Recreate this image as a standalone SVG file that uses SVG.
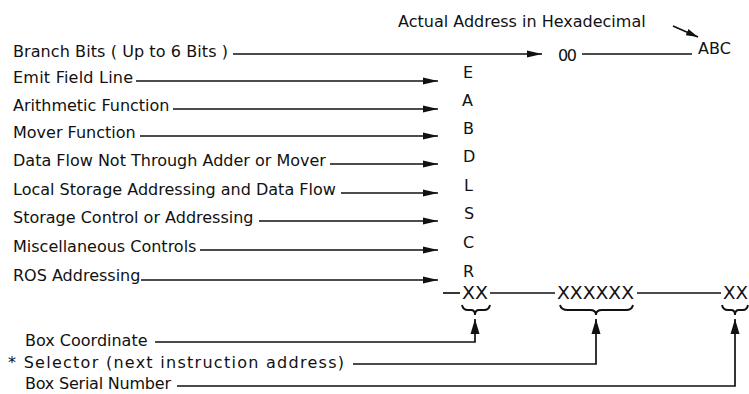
<svg xmlns="http://www.w3.org/2000/svg" width="749" height="394" viewBox="0 0 749 394">
<style>
text{font-family:"DejaVu Sans","Liberation Sans",sans-serif;font-size:16px;fill:#111}
.x{font-size:17px}
.ln{stroke:#111;stroke-width:1.7;fill:none}
.br{stroke:#111;stroke-width:1.9;fill:none}
</style>
<defs>
<marker id="ah" markerWidth="15" markerHeight="8" refX="15" refY="4" orient="auto" markerUnits="userSpaceOnUse"><path d="M0,0.4 L15,4 L0,7.6 z" fill="#111"/></marker>
<marker id="av" markerWidth="15" markerHeight="10" refX="15" refY="5" orient="auto" markerUnits="userSpaceOnUse"><path d="M0,0.5 L15,5 L0,9.5 z" fill="#111"/></marker>
<marker id="ad" markerWidth="12" markerHeight="8" refX="12" refY="4" orient="auto" markerUnits="userSpaceOnUse"><path d="M0,0.6 L12,4 L0,7.4 z" fill="#111"/></marker>
</defs>
<rect width="749" height="394" fill="#fff"/>
<g id="connectors">
<line class="ln" x1="233" y1="54" x2="542" y2="54" marker-end="url(#ah)"/>
<line class="ln" x1="582" y1="54" x2="692" y2="54"/>
<line class="ln" x1="673" y1="26" x2="698" y2="37" marker-end="url(#ad)"/>
<line class="ln" x1="136" y1="81" x2="438" y2="81" marker-end="url(#ah)"/>
<line class="ln" x1="173" y1="109" x2="438" y2="109" marker-end="url(#ah)"/>
<line class="ln" x1="140" y1="136" x2="438" y2="136" marker-end="url(#ah)"/>
<line class="ln" x1="330" y1="164" x2="438" y2="164" marker-end="url(#ah)"/>
<line class="ln" x1="341" y1="193" x2="438" y2="193" marker-end="url(#ah)"/>
<line class="ln" x1="259" y1="221" x2="438" y2="221" marker-end="url(#ah)"/>
<line class="ln" x1="200" y1="250" x2="438" y2="250" marker-end="url(#ah)"/>
<line class="ln" x1="141" y1="280" x2="438" y2="280" marker-end="url(#ah)"/>
<line class="ln" x1="443" y1="293" x2="460" y2="293"/>
<line class="ln" x1="490" y1="293" x2="555" y2="293"/>
<line class="ln" x1="637" y1="293" x2="721" y2="293"/>
<path class="ln" d="M155,342 H475 V319" marker-end="url(#av)"/>
<path class="ln" d="M353,364 H596 V319" marker-end="url(#av)"/>
<path class="ln" d="M177,386 H735 V319" marker-end="url(#av)"/>
<path class="br" d="M462,305 Q463,310 468,310 H471 Q475,310 475,315 Q475,310 479,310 H484 Q489,310 490,305"/>
<path class="br" d="M560,305 Q561,310 568,310 H590 Q596,310 596,315 Q596,310 602,310 H626 Q632,310 633,305"/>
<path class="br" d="M722,305 Q723,310 728,310 H731 Q735,310 735,315 Q735,310 739,310 H743 Q747,310 748,305"/>
</g>
<g id="title"><text x="398" y="27">Actual Address in Hexadecimal</text></g>
<g id="branch"><text x="13" y="57" textLength="215">Branch Bits ( Up to 6 Bits )</text></g>
<g id="zero"><text x="558" y="61" textLength="19">00</text></g>
<g id="abc"><text x="698" y="54" textLength="33">ABC</text></g>
<g id="emit"><text x="13" y="83" textLength="120">Emit Field Line</text></g>
<g id="arith"><text x="13" y="111">Arithmetic Function</text></g>
<g id="mover"><text x="13" y="138">Mover Function</text></g>
<g id="dataflow"><text x="13" y="166">Data Flow Not Through Adder or Mover</text></g>
<g id="local"><text x="13" y="195">Local Storage Addressing and Data Flow</text></g>
<g id="storage"><text x="13" y="223">Storage Control or Addressing</text></g>
<g id="misc"><text x="13" y="252">Miscellaneous Controls</text></g>
<g id="ros"><text x="13" y="281">ROS Addressing</text></g>
<g id="letters">
<text x="463" y="78">E</text>
<text x="462" y="106">A</text>
<text x="463" y="134">B</text>
<text x="463" y="162">D</text>
<text x="464" y="191">L</text>
<text x="464" y="219">S</text>
<text x="463" y="248">C</text>
<text x="463" y="277">R</text>
</g>
<g id="xx1"><text class="x" x="462" y="299" textLength="26" lengthAdjust="spacingAndGlyphs">XX</text></g>
<g id="xx2"><text class="x" x="557" y="299" textLength="77" lengthAdjust="spacingAndGlyphs">XXXXXX</text></g>
<g id="xx3"><text class="x" x="723" y="299" textLength="25" lengthAdjust="spacingAndGlyphs">XX</text></g>
<g id="boxcoord"><text x="25" y="346">Box Coordinate</text></g>
<g id="selector"><text x="8" y="368" textLength="336">* Selector (next instruction address)</text></g>
<g id="serial"><text x="25" y="389" textLength="146">Box Serial Number</text></g>
</svg>
